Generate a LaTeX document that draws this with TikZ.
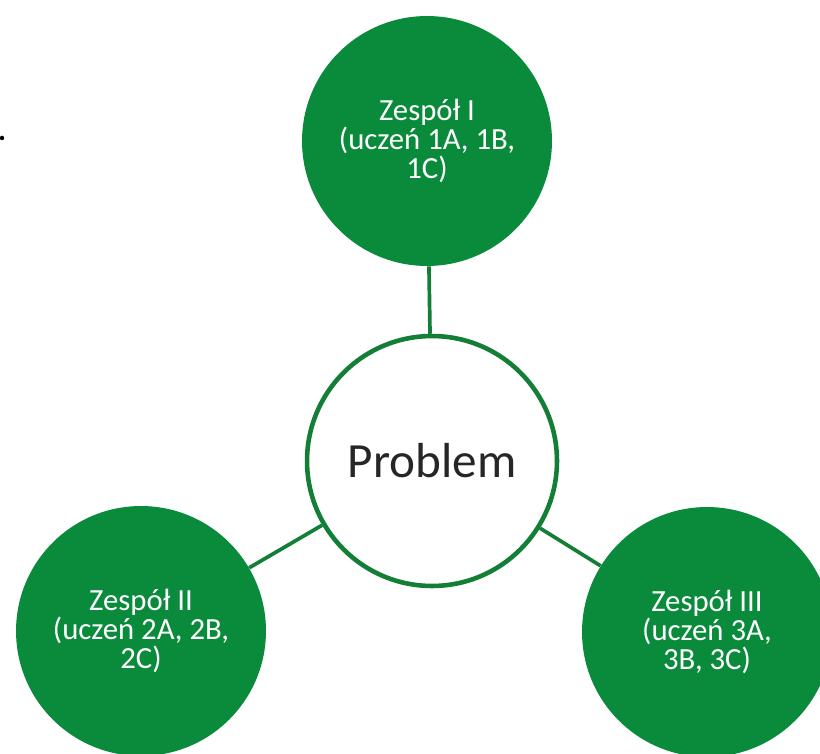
\documentclass[tikz,border=0pt]{standalone}
\usepackage{fontspec}
\setmainfont{Carlito}
\definecolor{teamgreen}{RGB}{10,139,60}
\definecolor{linegreen}{RGB}{18,126,54}
\begin{document}
\begin{tikzpicture}[
	x=0.02cm, y=-0.02cm,
	teamnode/.style={shape=circle, fill=teamgreen, minimum size=5cm, inner sep=0pt, align=center, text=white, font=\fontsize{17.5}{16.5}\selectfont},
	problemnode/.style={shape=circle, draw=linegreen, line width=2.6pt, fill=white, minimum size=5cm, inner sep=0pt, text=black!85, font=\fontsize{28}{32}\selectfont},
	link/.style={draw=linegreen, line width=2.1pt},
]
\useasboundingbox (0,0) rectangle (820,753);
\fill[black] (2,138) circle (0.045cm);
\node[problemnode] (problem) at (432,461) {Problem};
\node[teamnode] (team1) at (427,141) {Zespół I\\(uczeń 1A, 1B,\\1C)};
\node[teamnode] (team2) at (141,631) {Zespół II\\(uczeń 2A, 2B,\\2C)};
\node[teamnode] (team3) at (707,632) {Zespół III\\(uczeń 3A,\\3B, 3C)};
\draw[link] (problem) -- (team1);
\draw[link] (problem) -- (team2);
\draw[link] (problem) -- (team3);
\end{tikzpicture}
\end{document}
